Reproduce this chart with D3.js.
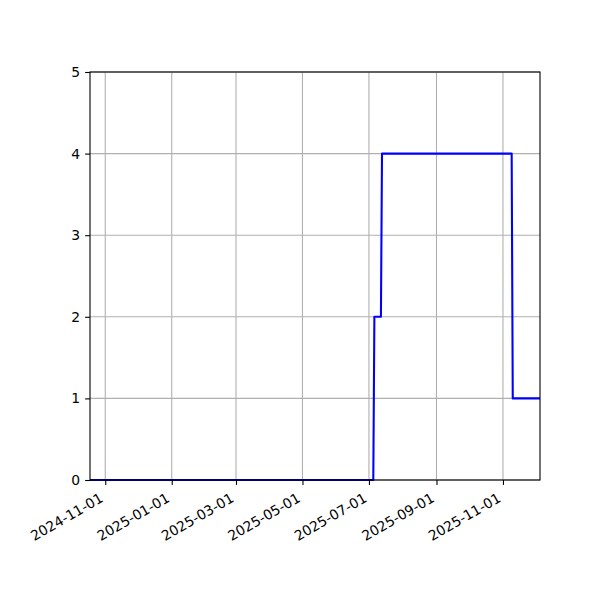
<!DOCTYPE html>
<html>
<head>
<meta charset="utf-8">
<script src="https://cdn.jsdelivr.net/npm/d3@7"></script>
<style>
  body { margin: 0; background: #fff; }
  text { font-family: "DejaVu Sans", sans-serif; }
</style>
</head>
<body>
<div id="chart"></div>
<script>
/** Change points of the series (line goes straight between them) */
const dates = ["2024-10-18", "2025-07-05", "2025-07-06", "2025-07-12",
               "2025-07-13", "2025-11-09", "2025-11-10", "2025-12-05"];
const values = [0, 0, 2, 2, 4, 4, 1, 1];

/** Tick labels */
const xTicks = ["2024-11-01", "2025-01-01", "2025-03-01", "2025-05-01",
                "2025-07-01", "2025-09-01", "2025-11-01"];
const yTicks = [0, 1, 2, 3, 4, 5];

const parse = d3.utcParse("%Y-%m-%d");
const fmt = d3.utcFormat("%Y-%m-%d");
const data = dates.map((d, i) => ({date: parse(d), value: values[i]}));

const w = 600, h = 600;
const margin = {top: 72, right: 60, bottom: 120, left: 90};
const width = w - margin.left - margin.right;
const height = h - margin.top - margin.bottom;
const fontSize = 13.9;

const xScale = d3.scaleUtc()
  .domain(d3.extent(data, (d) => d.date))
  .range([0, width]);
const yScale = d3.scaleLinear()
  .domain([0, 5])
  .range([height, 0]);

const svg = d3.select("#chart")
  .append("svg")
  .attr("width", w)
  .attr("height", h);

const g = svg.append("g")
  .attr("transform", "translate(" + margin.left + "," + margin.top + ")");

/** Grid lines */
g.append("g")
  .selectAll("line")
  .data(xTicks.map(parse))
  .enter()
  .append("line")
  .attr("x1", (d) => xScale(d))
  .attr("x2", (d) => xScale(d))
  .attr("y1", 0)
  .attr("y2", height)
  .attr("stroke", "#b0b0b0")
  .attr("stroke-width", 1.1);

g.append("g")
  .selectAll("line")
  .data(yTicks)
  .enter()
  .append("line")
  .attr("x1", 0)
  .attr("x2", width)
  .attr("y1", (d) => yScale(d))
  .attr("y2", (d) => yScale(d))
  .attr("stroke", "#b0b0b0")
  .attr("stroke-width", 1.1);

/** The series */
const line = d3.line()
  .x((d) => xScale(d.date))
  .y((d) => yScale(d.value));

g.append("path")
  .datum(data)
  .attr("d", line)
  .attr("fill", "none")
  .attr("stroke", "blue")
  .attr("stroke-width", 2.08)
  .attr("stroke-linejoin", "round");

/** Axes */
const xAxis = d3.axisBottom(xScale)
  .tickValues(xTicks.map(parse))
  .tickFormat(fmt)
  .tickSize(4.9);
const yAxis = d3.axisLeft(yScale)
  .tickValues(yTicks)
  .tickFormat(d3.format("d"))
  .tickSize(4.9)
  .tickPadding(4.9);

const gx = g.append("g")
  .attr("transform", "translate(0," + height + ")")
  .call(xAxis);
gx.select(".domain").remove();

// rotated labels: bbox top-right corner sits under the tick (matplotlib ha=right)
const boxH = fontSize * 1.164;
gx.selectAll("text")
  .style("font-size", fontSize + "px")
  .attr("fill", "#000")
  .attr("text-anchor", "end")
  .attr("x", 0)
  .attr("y", 0)
  .attr("dy", "0.93em")
  .attr("transform", "translate(" + (-boxH / 2) + ",9.7) rotate(-30)");

const gy = g.append("g").call(yAxis);
gy.select(".domain").remove();
gy.selectAll("text")
  .style("font-size", fontSize + "px")
  .attr("fill", "#000");

g.selectAll(".tick line").attr("stroke", "#000").attr("stroke-width", 1.1);

/** Frame */
g.append("rect")
  .attr("x", 0)
  .attr("y", 0)
  .attr("width", width)
  .attr("height", height)
  .attr("fill", "none")
  .attr("stroke", "#000")
  .attr("stroke-width", 1.1);
</script>
</body>
</html>
